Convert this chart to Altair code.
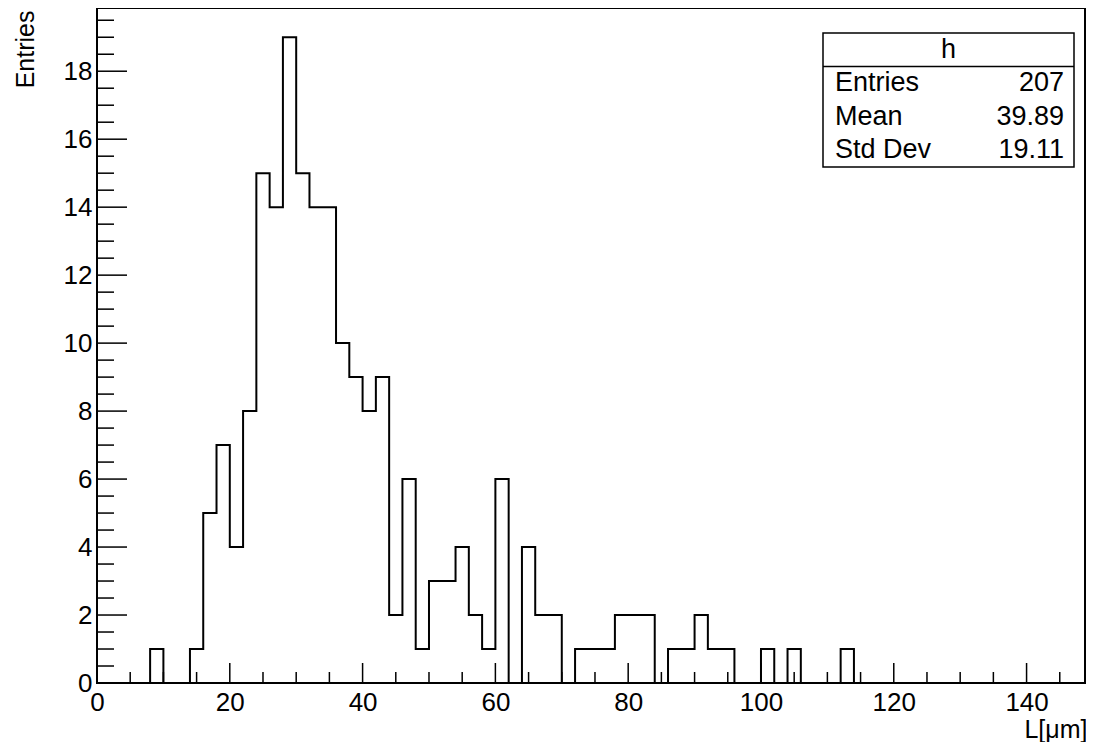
import altair as alt
import pandas as pd

# ---- data (bin width 2, range 0..150) ----
bin_width = 2
counts = [0, 0, 0, 0, 1, 0, 0, 1, 5, 7,
          4, 8, 15, 14, 19, 15, 14, 14, 10, 9,
          8, 9, 2, 6, 1, 3, 3, 4, 2, 1,
          6, 0, 4, 2, 2, 0, 1, 1, 1, 2,
          2, 2, 0, 1, 1, 2, 1, 1, 0, 0,
          1, 0, 1, 0, 0, 0, 1, 0, 0, 0,
          0, 0, 0, 0, 0, 0, 0, 0, 0, 0,
          0, 0, 0, 0, 0]
x_major = [0, 20, 40, 60, 80, 100, 120, 140]
x_minor = [v for v in range(0, 150, 5) if v not in x_major]
y_major = [0, 2, 4, 6, 8, 10, 12, 14, 16, 18]
y_minor = [v / 2 for v in range(0, 40) if (v / 2) not in y_major]
stat_labels = ["Entries", "Mean", "Std Dev"]
stat_values = ["207", "39.89", "19.11"]
hist_name = "h"

# ---- tables ----
edges = [i * bin_width for i in range(len(counts))] + [len(counts) * bin_width]
vals = counts + [counts[-1]]
hist = pd.DataFrame({"x": edges, "n": vals})

W, H = 988, 675
FONT = "Liberation Sans"
xs = alt.Scale(domain=[0, 148.8], nice=False, zero=False)
ys = alt.Scale(domain=[0, 19.86], nice=False, zero=False)

ax_x = alt.Axis(values=x_major, title="L[μm]", grid=False, ticks=False,
                tickSize=0, domain=False, labelFontSize=26, labelFont=FONT,
                labelColor="black", labelPadding=6, format="d",
                titleFont=FONT, titleFontSize=25, titleFontWeight="normal",
                titleColor="black", titleX=990, titleY=54,
                titleAlign="right", titleBaseline="alphabetic",
                labelFlush=False, labelOverlap=False)
ax_y = alt.Axis(values=y_major, title="Entries", grid=False, ticks=False,
                tickSize=0, domain=False, labelFontSize=26, labelFont=FONT,
                labelColor="black", labelPadding=5, format="d",
                titleFont=FONT, titleFontSize=25, titleFontWeight="normal",
                titleColor="black", titleX=-64, titleY=2, titleAngle=270,
                titleAlign="right", titleBaseline="alphabetic",
                labelFlush=False, labelOverlap=False)

line = alt.Chart(hist).mark_line(
    interpolate="step-after", color="black", strokeWidth=2, clip=True
).encode(
    x=alt.X("x:Q", scale=xs, axis=ax_x),
    y=alt.Y("n:Q", scale=ys, axis=ax_y),
)

def xticks(vs, length):
    return alt.Chart(pd.DataFrame({"x": vs})).mark_rule(color="black", strokeWidth=1.5).encode(
        x=alt.X("x:Q", scale=xs, axis=ax_x), y=alt.value(H), y2=alt.value(H - length))

def yticks(vs, length):
    return alt.Chart(pd.DataFrame({"n": vs})).mark_rule(color="black", strokeWidth=1.5).encode(
        y=alt.Y("n:Q", scale=ys, axis=ax_y), x=alt.value(0), x2=alt.value(length))

# stats box
bx0, bx1, by0, by1 = 726, 977, 25, 159
row = (by1 - by0) / 4.0
box = alt.Chart(pd.DataFrame({"k": [0]})).mark_rect(
    fill="white", stroke="black", strokeWidth=1.5
).encode(x=alt.value(bx0), x2=alt.value(bx1), y=alt.value(by0), y2=alt.value(by1))
divider = alt.Chart(pd.DataFrame({"k": [0]})).mark_rule(color="black", strokeWidth=1.5).encode(
    x=alt.value(bx0), x2=alt.value(bx1), y=alt.value(by0 + row))
title_txt = alt.Chart(pd.DataFrame({"t": [hist_name]})).mark_text(
    font=FONT, fontSize=27, color="black", align="center", baseline="middle"
).encode(text="t:N", x=alt.value((bx0 + bx1) / 2), y=alt.value(by0 + row * 0.5))

stat_layers = []
for i, (lab, val) in enumerate(zip(stat_labels, stat_values)):
    yy = by0 + row * (i + 1.5)
    stat_layers.append(alt.Chart(pd.DataFrame({"t": [lab]})).mark_text(
        font=FONT, fontSize=27, color="black", align="left", baseline="middle"
    ).encode(text="t:N", x=alt.value(bx0 + 12), y=alt.value(yy)))
    stat_layers.append(alt.Chart(pd.DataFrame({"t": [val]})).mark_text(
        font=FONT, fontSize=27, color="black", align="right", baseline="middle"
    ).encode(text="t:N", x=alt.value(bx1 - 10), y=alt.value(yy)))

chart = alt.layer(
    line,
    xticks(x_minor, 11), xticks(x_major, 20),
    yticks(y_minor, 17), yticks(y_major, 30),
    box, divider, title_txt, *stat_layers
).properties(
    width=W, height=H,
    autosize=alt.AutoSizeParams(type="none"),
    padding={"left": 89, "top": 0, "right": 1, "bottom": 70},
    background="white",
).configure_view(stroke="black", strokeWidth=2)

chart.save("out.html", embed_options={"renderer": "svg", "actions": False})
